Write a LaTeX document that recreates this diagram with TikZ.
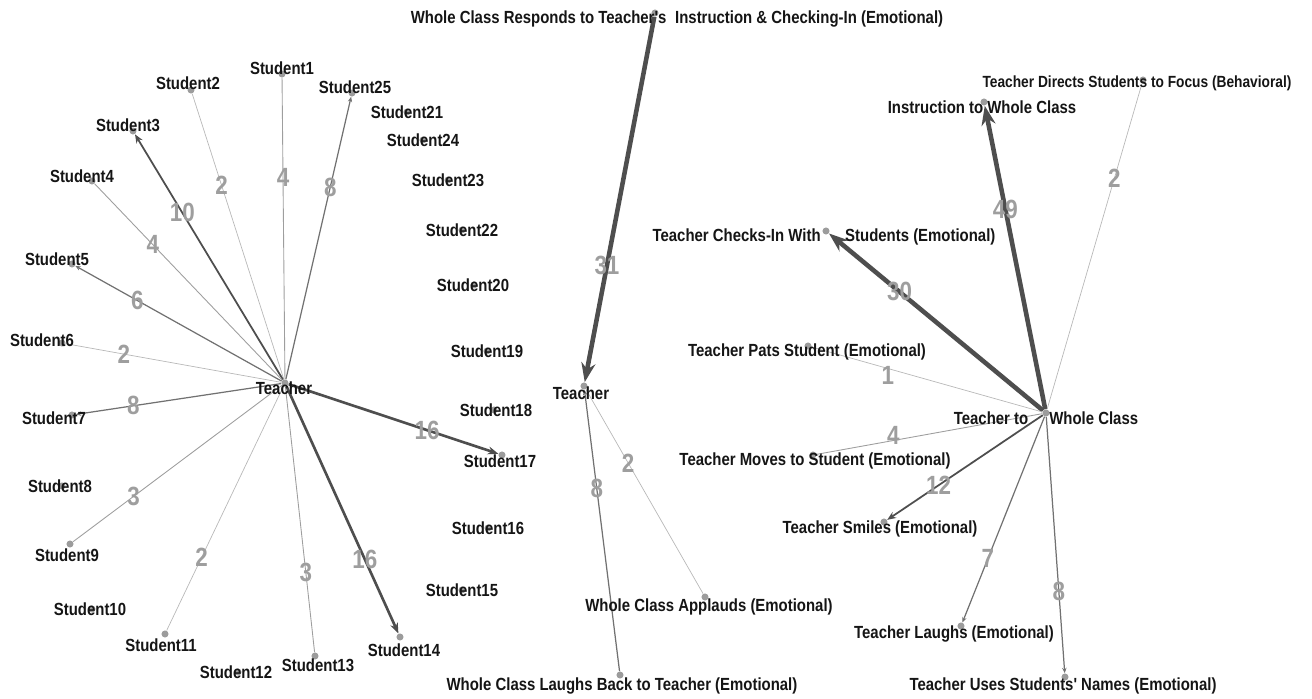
\documentclass[tikz,border=0pt]{standalone}
\usepackage{fontspec}
\usetikzlibrary{arrows.meta}
\newfontfamily\netfont[FakeStretch=0.85]{Liberation Sans}
\definecolor{NetInk}{HTML}{151515}
\definecolor{NetEdge}{HTML}{4E4E4E}
\definecolor{NetWeight}{HTML}{9E9E9E}
\definecolor{NetDot}{HTML}{9C9C9C}
\pgfdeclarelayer{edges}
\pgfsetlayers{edges,main}
\tikzset{
  netdot/.style = {circle, fill=NetDot, inner sep=0pt, minimum size=4pt},
  netlbl/.style = {font=\netfont\bfseries\fontsize{10}{12}\selectfont, text=NetInk, inner sep=0pt},
  netlbls/.style = {netlbl, font=\netfont\bfseries\fontsize{9.2}{11}\selectfont},
  netwt/.style  = {font=\netfont\bfseries\fontsize{15}{16}\selectfont, text=NetWeight, inner sep=0pt},
  ed1/.style = {draw=NetEdge!40, line width=0.4pt},
  ed2/.style = {draw=NetEdge!55, line width=0.5pt},
  ed3/.style = {draw=NetEdge!80, line width=0.7pt, -{Stealth[length=3pt,width=2.5pt]}},
  ed4/.style = {draw=NetEdge, line width=1pt, -{Stealth[length=5pt,width=4pt]}},
  ed5/.style = {draw=NetEdge, line width=1.5pt, -{Stealth[length=6pt,width=4.5pt]}},
  ed6/.style = {draw=NetEdge, line width=2.6pt, -{Stealth[length=11pt,width=8pt]}},
}

\begin{document}
\begin{tikzpicture}[x=0.02cm, y=-0.02cm]
  \useasboundingbox (0,0) rectangle (1312,699);

  % left: teacher and the 25 students
  \node[netdot] (t) at (285,383) {};
  \node[netlbl] (tlb) at (284,388) {Teacher};
  \foreach \n/\dx/\dy/\lx/\ly in {1/282/74/282/68, 2/191/90/188/83, 3/133/131/128/125,
      4/92/181/82/176, 5/72/264/57/259, 6/62/343/42/340, 7/72/415/54/418,
      8/62/486/60/486, 9/70/544/67/555, 10/92/609/90/609, 11/165/634/161/645,
      12/238/672/236/672, 13/315/656/318/665, 14/400/637/404/650, 15/462/590/462/590,
      16/488/528/488/528, 17/502/455/500/461, 18/494/410/496/410, 19/487/351/487/351,
      20/474/285/473/285, 21/407/112/407/112, 22/462/230/462/230, 23/448/180/448/180,
      24/423/140/423/140, 25/352/93/355/87}
  {
    \node[netdot] (s\n) at (\dx,\dy) {};
    \node[netlbl] (s\n lb) at (\lx,\ly) {Student\n};
  }

  % middle: whole class to teacher
  \node[netdot] (tm) at (584,386) {};
  \node[netlbl] (tmlb) at (581,393) {Teacher};
  \node[netdot] (wcr) at (655,13) {};
  \node[netlbl] (wcrlb) at (677,19) {Whole Class Responds to Teacher's\hspace{0.5em}Instruction \& Checking-In (Emotional)};
  \node[netdot] (wcl) at (620,675) {};
  \node[netlbl] (wcllb) at (622,686) {Whole Class Laughs Back to Teacher (Emotional)};
  \node[netdot] (wca) at (705,597) {};
  \node[netlbl] (wcalb) at (709,607) {Whole Class Applauds (Emotional)};

  % right: teacher to whole class
  \node[netdot] (hub) at (1046,413) {};
  \node[netlbl] (hublb) at (1046,418) {Teacher to\hspace{1.2em}Whole Class};
  \node[netdot] (ins) at (984,102) {};
  \node[netlbl] (inslb) at (982,107) {Instruction to Whole Class};
  \node[netdot] (dir) at (1143,80) {};
  \node[netlbls] (dirlb) at (1137,83) {Teacher Directs Students to Focus (Behavioral)};
  \node[netdot] (chk) at (826,231) {};
  \node[netlbl] (chklb) at (824,237) {Teacher Checks-In With\hspace{1.4em}Students (Emotional)};
  \node[netdot] (pat) at (808,346) {};
  \node[netlbl] (patlb) at (807,352) {Teacher Pats Student (Emotional)};
  \node[netdot] (mov) at (813,455) {};
  \node[netlbl] (movlb) at (815,461) {Teacher Moves to Student (Emotional)};
  \node[netdot] (smi) at (884,522) {};
  \node[netlbl] (smilb) at (880,529) {Teacher Smiles (Emotional)};
  \node[netdot] (lau) at (961,626) {};
  \node[netlbl] (laulb) at (954,634) {Teacher Laughs (Emotional)};
  \node[netdot] (nam) at (1065,677) {};
  \node[netlbl] (namlb) at (1063,686) {Teacher Uses Students' Names (Emotional)};

  \begin{pgfonlayer}{edges}
    \foreach \n/\w/\s/\p in {1/4/ed2/.67, 2/2/ed1/.68, 3/10/ed4/.68, 4/4/ed2/.69,
        5/6/ed3/.70, 6/2/ed1/.73, 7/8/ed3/.72, 9/3/ed2/.71, 11/2/ed1/.70,
        13/3/ed2/.70, 14/16/ed5/.70, 17/16/ed5/.66, 25/8/ed3/.68}
      \draw[\s] (t) -- (s\n) node[netwt, pos=\p] {\w};

    \draw[ed6] (wcr) -- (tm) node[netwt, pos=.68] {31};
    \draw[ed3] (wcl) -- (tm) node[netwt, pos=.65] {8};
    \draw[ed1] (wca) -- (tm) node[netwt, pos=.64] {2};

    \foreach \m/\w/\s/\p in {ins/49/ed6/.66, dir/2/ed1/.71, chk/30/ed6/.67,
        smi/12/ed4/.67, lau/7/ed3/.69, nam/8/ed3/.68}
      \draw[\s] (hub) -- (\m) node[netwt, pos=\p] {\w};
    \draw[ed1] (hub) -- (pat) node[netwt, pos=.67, yshift=-4pt] {1};
    \draw[ed2] (hub) -- (mov) node[netwt, pos=.66, yshift=3pt] {4};
  \end{pgfonlayer}
\end{tikzpicture}
\end{document}
